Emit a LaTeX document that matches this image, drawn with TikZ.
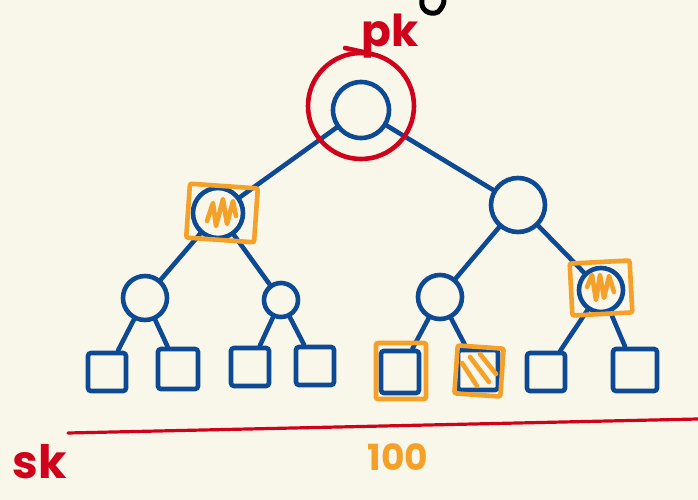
\documentclass[tikz,border=0pt]{standalone}
\usepackage{fontspec}
\setmainfont{Poppins}
\definecolor{bgc}{RGB}{249,246,234}
\definecolor{tblue}{RGB}{14,74,148}
\definecolor{tred}{RGB}{208,2,27}
\definecolor{torange}{RGB}{245,160,40}
\tikzset{
  bc/.style={circle,draw=tblue,line width=4.6pt,inner sep=0pt},
  lf/.style={rectangle,draw=tblue,line width=4.6pt,inner sep=0pt,minimum size=38pt,rounded corners=3pt},
  ob/.style={rectangle,draw=torange,line width=4.6pt,inner sep=0pt,rounded corners=2pt},
  edge/.style={draw=tblue,line width=4.6pt,line cap=round},
  hatch/.style={draw=torange,line width=4.6pt,line cap=round,line join=round},
}
\begin{document}
\begin{tikzpicture}[x=1pt,y=-1pt]
\fill[bgc] (0,0) rectangle (698,500);
\useasboundingbox (0,0) rectangle (698,500);
% circles
\node[bc,minimum size=56pt] (r) at (361,110) {};
\node[bc,minimum size=50pt] (a) at (218,213) {};
\node[bc,minimum size=54pt] (b) at (518,205) {};
\node[bc,minimum size=44pt] (c1) at (145,298) {};
\node[bc,minimum size=34pt] (c2) at (281,300) {};
\node[bc,minimum size=44pt] (c3) at (440,297) {};
\node[bc,minimum size=44pt] (c4) at (601,290) {};
% leaves
\node[lf] (l1) at (107,372) {};
\node[lf,minimum size=40pt] (l2) at (178,369) {};
\node[lf] (l3) at (250,367) {};
\node[lf] (l4) at (315,366) {};
\node[lf,minimum width=38pt,minimum height=42pt] (l5) at (400,372) {};
\node[lf,minimum size=40pt] (l6) at (478,370) {};
\node[lf] (l7) at (546,372) {};
\node[lf,minimum width=44pt,minimum height=42pt] (l8) at (635,370) {};
% edges
\path[edge] (r) -- (a);
\path[edge] (r) -- (b);
\path[edge] (a) -- (c1);
\path[edge] (a) -- (c2);
\path[edge] (b) -- (c3);
\path[edge] (b) -- (c4);
\path[edge] (c1) -- (l1);
\path[edge] (c1) -- (l2);
\path[edge] (c2) -- (l3);
\path[edge] (c2) -- (l4);
\path[edge] (c3) -- (l5);
\path[edge] (c3) -- (l6);
\path[edge] (c4) -- (l7);
\path[edge] (c4) -- (l8);
% red ring around root
\node[circle,draw=tred,line width=4.6pt,minimum size=106pt,inner sep=0pt] (ring) at (361,106) {};
% orange boxes
\node[ob,minimum width=68pt,minimum height=54pt,rotate=-4] (oa) at (222,213) {};
\node[ob,minimum width=60pt,minimum height=52pt,rotate=3] (od) at (601,288) {};
\node[ob,minimum width=50pt,minimum height=56pt] (o5) at (401,371) {};
\node[ob,minimum width=46pt,minimum height=48pt,rotate=-4] (o6) at (479,371) {};
% hatching
\draw[hatch] (207,221) -- (213,203) -- (216,226) -- (223,199) -- (227,224) -- (233,201) -- (236,216);
\draw[hatch] (587,287) -- (592,275) -- (596,300) -- (600,275) -- (604,298) -- (609,276) -- (614,292);
\draw[hatch] (462,363) -- (477,386);
\draw[hatch] (470,357) -- (489,382);
\draw[hatch] (480,354) -- (496,374);
% bottom red line
\coordinate (s0) at (68,433);
\coordinate (s1) at (698,419);
\draw[tred,line width=3.2pt,line cap=round] (s0) -- (s1);
% labels
\node[text=tred,font=\fontsize{44}{44}\selectfont\bfseries,inner sep=0pt] (pk) at (390,36) {pk};
\coordinate (d0) at (345,48);
\coordinate (d1) at (368,53);
\draw[tred,line width=4.6pt,line cap=round] (d0) -- (d1);
\node[text=tred,font=\fontsize{46}{46}\selectfont\bfseries,inner sep=0pt] (sk) at (40,462) {sk};
\node[text=torange,font=\fontsize{36}{36}\selectfont\bfseries,inner sep=0pt] (hundred) at (398,457) {100};
% black stroke at top
\draw[black,line width=5pt,line cap=round] (422,0) .. controls (420,10) and (430,16) .. (438,12) .. controls (442,8) and (444,4) .. (444,0);
\end{tikzpicture}
\end{document}
